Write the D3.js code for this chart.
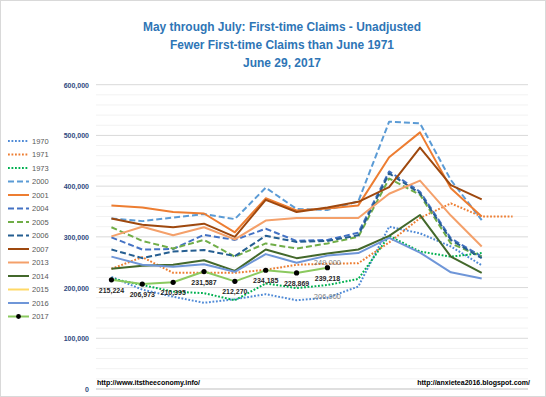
<!DOCTYPE html>
<html>
<head>
<meta charset="utf-8">
<script src="https://cdn.jsdelivr.net/npm/d3@7"></script>
<style>
  body { margin: 0; background: #fff; }
  text { font-family: "Liberation Sans", Arial, sans-serif; }
</style>
</head>
<body>
<div id="chart"></div>
<script>
var width = 546,
    height = 397;

// weekly first-time claims, May through July (14 weeks)
var weeks = ["W1","W2","W3","W4","W5","W6","W7","W8","W9","W10","W11","W12","W13","W14"];

var years = ["1970","1971","1973","2000","2001","2004","2005","2006","2007","2013","2014","2015","2016","2017"];

var v1970 = [221000,196000,182000,170000,177000,187000,175000,180000,202000,320000,307000,281000,244000,null];
var v1971 = [237000,260000,229000,229000,229000,235000,245000,247000,248000,289000,337000,366000,340000,340000];
var v1973 = [218000,205000,192000,189000,175000,208000,199000,205000,217000,302000,271000,261000,268000,null];
var v2000 = [336000,331000,338000,345000,335000,397000,355000,353000,370000,527000,524000,412000,333000,null];
var v2001 = [362000,358000,349000,346000,309000,376000,352000,356000,362000,457000,506000,396000,340000,null];
var v2004 = [299000,275000,276000,304000,294000,316000,292000,294000,308000,429000,389000,297000,261000,null];
var v2005 = [319000,292000,277000,294000,261000,287000,277000,287000,300000,415000,383000,287000,261000,null];
var v2006 = [275000,258000,271000,274000,262000,302000,290000,292000,303000,425000,386000,294000,258000,null];
var v2007 = [336000,324000,319000,326000,300000,373000,349000,358000,369000,398000,476000,402000,374000,null];
var v2013 = [301000,320000,303000,319000,295000,332000,337000,337000,337000,385000,411000,342000,281000,null];
var v2014 = [237000,243000,245000,254000,233000,275000,258000,267000,275000,302000,343000,261000,229000,null];
var v2015 = [];
var v2016 = [261000,245000,241000,246000,231000,266000,249000,263000,268000,298000,269000,230000,218000,null];
var v2017 = [215224,206973,210395,231587,212270,234185,228869,239218];

var yTicks = [0,100000,200000,300000,400000,500000,600000];

var titleLines = ["May through July: First-time Claims - Unadjusted",
                  "Fewer First-time Claims than June 1971",
                  "June 29, 2017"];

// gray notes placed on single points
var noteSeries = ["1971","1970"];
var noteIndex = [7,7];
var noteText = ["249,000","206,000"];

var seriesValues = [v1970,v1971,v1973,v2000,v2001,v2004,v2005,v2006,v2007,v2013,v2014,v2015,v2016,v2017];

var dot = "1.8,1.7",
    dash = "6,3";

var styles = {
  "1970": {color:"#4f8ad6", dash:dot},
  "1971": {color:"#ed7d31", dash:dot},
  "1973": {color:"#00b050", dash:dot},
  "2000": {color:"#5b9bd5", dash:dash},
  "2001": {color:"#ed7d31", dash:null},
  "2004": {color:"#4472c4", dash:dash},
  "2005": {color:"#70ad47", dash:dash},
  "2006": {color:"#255e91", dash:dash},
  "2007": {color:"#9e480e", dash:null},
  "2013": {color:"#f4a06a", dash:null},
  "2014": {color:"#43682b", dash:null},
  "2015": {color:"#ffd966", dash:null},
  "2016": {color:"#6f96d8", dash:null},
  "2017": {color:"#8bc95f", dash:null}
};

var series = years.map(function(y, i) {
  return {year: y, values: seriesValues[i]};
});

var svg = d3.select("#chart").append("svg")
    .attr("width", width)
    .attr("height", height);

svg.append("rect")
    .attr("x", 0.5).attr("y", 0.5)
    .attr("width", width - 1).attr("height", height - 1)
    .attr("fill", "#fff")
    .attr("stroke", "#d9d9d9");

var x = d3.scalePoint()
    .domain(d3.range(weeks.length))
    .range([96, 528])
    .padding(0.5);

var y = d3.scaleLinear()
    .domain([0, 600000])
    .range([389, 84.7]);

// minor and major gridlines
svg.append("g")
  .selectAll("line")
  .data(d3.range(0, 600001, 20000).filter(function(d) { return d % 100000 != 0; }))
  .enter().append("line")
    .attr("x1", 96).attr("x2", 528)
    .attr("y1", function(d) { return y(d); })
    .attr("y2", function(d) { return y(d); })
    .attr("stroke", "#f2f2f2")
    .attr("stroke-width", 1);

svg.append("g")
  .selectAll("line")
  .data(yTicks)
  .enter().append("line")
    .attr("x1", 96).attr("x2", 528)
    .attr("y1", function(d) { return y(d); })
    .attr("y2", function(d) { return y(d); })
    .attr("stroke", function(d) { return d == 0 ? "#bfbfbf" : "#d9d9d9"; })
    .attr("stroke-width", 1);

var yAxis = d3.axisLeft(y)
    .tickValues(yTicks)
    .tickSize(0)
    .tickPadding(0)
    .tickFormat(d3.format(","));

svg.append("g")
    .attr("transform", "translate(89,0)")
    .call(yAxis)
    .call(function(g) { g.select(".domain").remove(); })
    .selectAll("text")
      .attr("font-size", 7)
      .attr("font-weight", "bold")
      .attr("fill", "#2f4a80")
      .attr("dy", "0.35em");

// title
svg.append("g")
  .selectAll("text")
  .data(titleLines)
  .enter().append("text")
    .attr("x", 282)
    .attr("y", function(d, i) { return 31 + i * 18; })
    .attr("text-anchor", "middle")
    .attr("font-size", 13.5)
    .attr("font-weight", "bold")
    .attr("fill", "#2e75b6")
    .style("font-family", "'Liberation Sans Narrow', 'Liberation Sans', sans-serif")
    .attr("textLength", function(d, i) { return [278, 224, 78][i]; })
    .attr("lengthAdjust", "spacingAndGlyphs")
    .text(function(d) { return d; });

// lines
var line = d3.line()
    .defined(function(d) { return d != null; })
    .x(function(d, i) { return x(i); })
    .y(function(d) { return y(d); });

svg.append("g")
  .selectAll("path")
  .data(series)
  .enter().append("path")
    .attr("d", function(d) { return line(d.values); })
    .attr("fill", "none")
    .attr("stroke", function(d) { return styles[d.year].color; })
    .attr("stroke-width", 2)
    .attr("stroke-dasharray", function(d) { return styles[d.year].dash; })
    .attr("stroke-linejoin", "round");

// 2017 markers and labels
svg.append("g")
  .selectAll("circle")
  .data(v2017)
  .enter().append("circle")
    .attr("cx", function(d, i) { return x(i); })
    .attr("cy", function(d) { return y(d); })
    .attr("r", 2.6)
    .attr("fill", "#000");

svg.append("g")
  .selectAll("text")
  .data(v2017)
  .enter().append("text")
    .attr("x", function(d, i) { return x(i); })
    .attr("y", function(d) { return y(d) + 13; })
    .attr("text-anchor", "middle")
    .attr("font-size", 7)
    .attr("font-weight", "bold")
    .attr("fill", "#262626")
    .text(function(d) { return d3.format(",")(d); });

// gray notes
svg.append("g")
  .selectAll("text")
  .data(noteText)
  .enter().append("text")
    .attr("x", function(d, i) { return x(noteIndex[i]); })
    .attr("y", function(d, i) {
      var vals = seriesValues[years.indexOf(noteSeries[i])];
      return y(vals[noteIndex[i]]) + 1;
    })
    .attr("text-anchor", "middle")
    .attr("font-size", 7.5)
    .attr("fill", "#808080")
    .text(function(d) { return d; });

// legend
var legend = svg.append("g")
  .selectAll("g")
  .data(series)
  .enter().append("g")
    .attr("transform", function(d, i) { return "translate(0," + (141 + i * 13.5) + ")"; });

legend.append("line")
    .attr("x1", 8).attr("x2", 29)
    .attr("stroke", function(d) { return styles[d.year].color; })
    .attr("stroke-width", 2)
    .attr("stroke-dasharray", function(d) { return styles[d.year].dash; });

legend.filter(function(d) { return d.year == "2017"; })
  .append("circle")
    .attr("cx", 18.5).attr("r", 2.4).attr("fill", "#000");

legend.append("text")
    .attr("x", 32)
    .attr("dy", "0.35em")
    .attr("font-size", 7.5)
    .attr("fill", "#595959")
    .text(function(d) { return d.year; });

// footer links
svg.append("text")
    .attr("x", 97).attr("y", 385)
    .attr("font-size", 7)
    .attr("font-weight", "bold")
    .attr("fill", "#000")
    .text("http://www.itstheeconomy.info/");

svg.append("text")
    .attr("x", 530).attr("y", 385)
    .attr("text-anchor", "end")
    .attr("font-size", 7)
    .attr("font-weight", "bold")
    .attr("fill", "#000")
    .text("http://anxietea2016.blogspot.com/");
</script>
</body>
</html>
